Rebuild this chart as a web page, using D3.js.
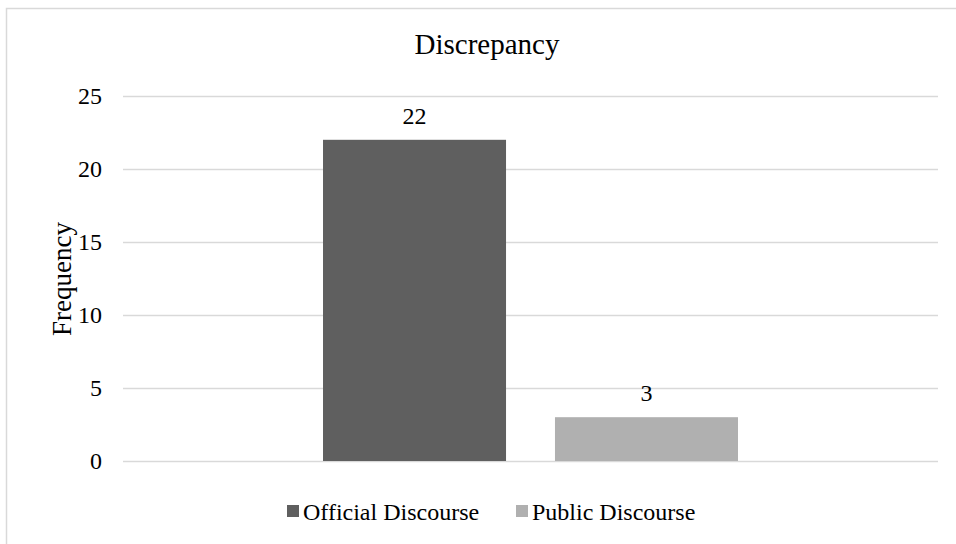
<!DOCTYPE html>
<html>
<head>
<meta charset="utf-8">
<script src="https://cdn.jsdelivr.net/npm/d3@7"></script>
<style>
  html, body { margin: 0; padding: 0; background: #fff; }
  svg { display: block; font-family: "Liberation Serif", "Times New Roman", serif; }
</style>
</head>
<body>
<svg id="chart" width="956" height="544"></svg>
<script>
const title = "Discrepancy";
const yLabel = "Frequency";
const categories = [""];
const seriesNames = ["Official Discourse", "Public Discourse"];
const seriesValues = [22, 3];
const seriesColors = ["#5f5f5f", "#b0b0b0"];
const yTicks = [0, 5, 10, 15, 20, 25];

const svg = d3.select("#chart");
const W = 956, H = 544;
const plot = { left: 123, right: 938, top: 96, bottom: 461 };

// chart border
svg.append("rect")
  .attr("x", 6.5).attr("y", 8.5)
  .attr("width", W + 10).attr("height", H + 10)
  .attr("fill", "#fff").attr("stroke", "#d9d9d9").attr("stroke-width", 1.5);

const y = d3.scaleLinear().domain([0, 25]).range([plot.bottom, plot.top]);
const x0 = d3.scaleBand().domain(categories).range([plot.left, plot.right])
  .paddingInner(0).paddingOuter(0.482);
const x1 = d3.scaleBand().domain(seriesNames).range([0, x0.bandwidth()])
  .paddingInner(0.211).paddingOuter(0);

// gridlines
const yAxis = d3.axisLeft(y).tickValues(yTicks).tickSize(-(plot.right - plot.left)).tickPadding(21);
const gy = svg.append("g").attr("transform", `translate(${plot.left},0)`).call(yAxis);
gy.select(".domain").remove();
gy.selectAll(".tick line").attr("stroke", "#d9d9d9").attr("stroke-width", 1.3);
gy.selectAll(".tick text").attr("fill", "#000").style("font-size", "24px")
  .style("font-family", "Liberation Serif, Times New Roman, serif");

// bars
const data = seriesNames.map((s, i) => ({ cat: categories[0], name: s, value: seriesValues[i], color: seriesColors[i] }));
const g = svg.append("g");
g.selectAll("rect.bar").data(data).enter().append("rect")
  .attr("class", "bar")
  .attr("x", d => x0(d.cat) + x1(d.name))
  .attr("y", d => y(d.value))
  .attr("width", x1.bandwidth())
  .attr("height", d => y(0) - y(d.value))
  .attr("fill", d => d.color);

g.selectAll("text.val").data(data).enter().append("text")
  .attr("class", "val")
  .attr("x", d => x0(d.cat) + x1(d.name) + x1.bandwidth() / 2)
  .attr("y", d => y(d.value) - 16)
  .attr("text-anchor", "middle")
  .style("font-size", "24px")
  .text(d => d.value);

// title
svg.append("text").attr("x", 487).attr("y", 54)
  .attr("text-anchor", "middle").style("font-size", "29px").text(title);

// y label
svg.append("text")
  .attr("transform", `translate(71,279) rotate(-90)`)
  .attr("text-anchor", "middle").style("font-size", "27px").text(yLabel);

// legend
const legendX = [287, 516];
const lg = svg.append("g");
data.forEach((d, i) => {
  lg.append("rect").attr("x", legendX[i]).attr("y", 505).attr("width", 12).attr("height", 12).attr("fill", d.color);
  lg.append("text").attr("x", legendX[i] + 16).attr("y", 520).style("font-size", "24px").text(d.name);
});
</script>
</body>
</html>
